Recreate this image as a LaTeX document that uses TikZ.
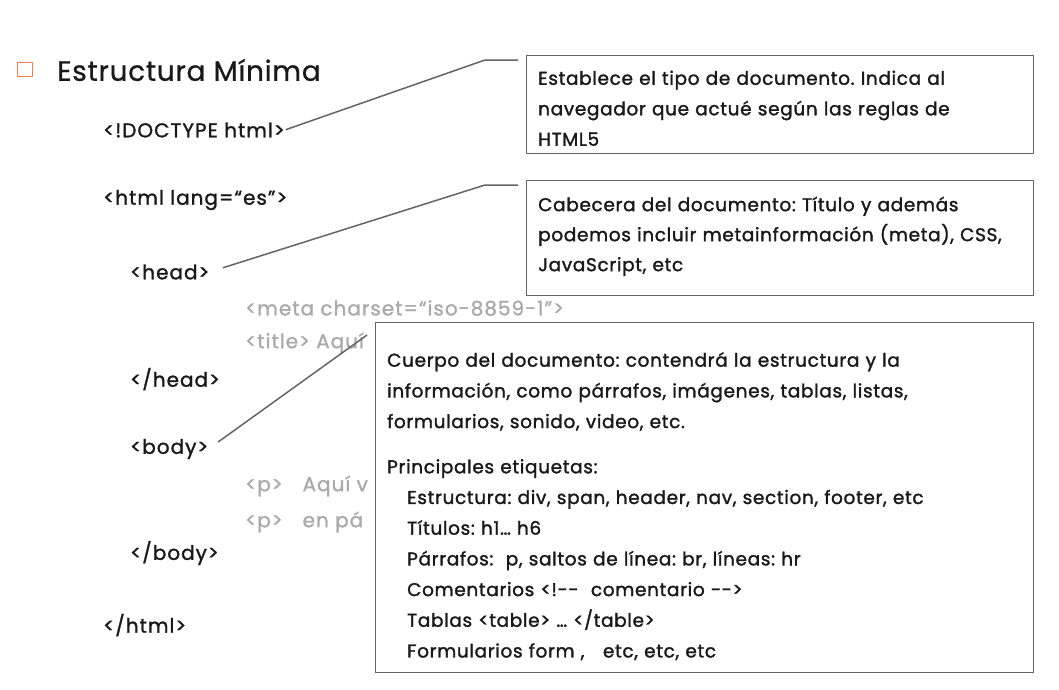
\documentclass[tikz,border=0pt]{standalone}
\usepackage{fontspec}
\setmainfont{Poppins}
\newfontfamily\tagfont{Poppins}[LetterSpace=5, FakeBold=1.3]
\newfontfamily\boxfont{Poppins}[LetterSpace=3.5, FakeBold=1.5]
\newfontfamily\headfont{Poppins}[LetterSpace=2.5, FakeBold=0.8]
\definecolor{bulletorange}{RGB}{232,128,80}
\definecolor{linegray}{RGB}{100,100,100}
\definecolor{codegray}{RGB}{170,170,170}
\definecolor{inkblack}{RGB}{25,25,25}
\tikzset{
  tag/.style={anchor=west, inner sep=0pt, text=inkblack, font=\tagfont\fontsize{20}{24}\selectfont},
  faded/.style={tag, text=codegray},
  callbox/.style={draw=linegray, line width=1.3pt, fill=white, anchor=north west, inner sep=0pt},
  boxtext/.style={anchor=north west, inner sep=0pt, align=left, text=inkblack,
    font=\boxfont\fontsize{18.5}{30.5}\selectfont},
  callout/.style={draw=linegray, line width=1.5pt}
}

\begin{document}
\frenchspacing
\begin{tikzpicture}[x=1pt, y=-1pt]
  \useasboundingbox (0,0) rectangle (1059,689);

  % Title
  \node[draw=bulletorange, line width=1.8pt, minimum width=15pt, minimum height=14pt, inner sep=0pt] (bullet) at (25,69.5) {};
  \node[anchor=west, inner sep=0pt, text=inkblack, font=\headfont\fontsize{28}{34}\selectfont] (title) at (57,70) {Estructura Mínima};

  % Markup
  \node[tag] (doctype) at (103,130) {<!DOCTYPE html>};
  \node[tag] (html) at (103,200) {<html lang=“es”>};
  \node[tag] (head) at (130,272) {<head>};
  \node[faded] (meta) at (245,308) {<meta charset=“iso-8859-1”>};
  \node[faded] (title2) at (245,343) {<title> Aquí};
  \node[tag] (headend) at (130,379) {</head>};
  \node[tag] (body) at (130,449) {<body>};
  \node[faded] (p1) at (245,486) {<p>\quad Aquí v};
  \node[faded] (p2) at (245,522) {<p>\quad en pá};
  \node[tag] (bodyend) at (130,553) {</body>};
  \node[tag] (htmlend) at (103,625) {</html>};

  % Box 1
  \node[callbox, minimum width=507pt, minimum height=98pt] (doctypebox) at (526,55) {};
  \node[boxtext, text width=483pt] (doctypetext) at ([shift={(12,15.5)}]doctypebox.north west)
    {Establece el tipo de documento. Indica al\\ navegador que actué según las reglas de\\ HTML5};

  % Box 2
  \node[callbox, minimum width=507pt, minimum height=115pt] (headbox) at (526,180) {};
  \node[boxtext, text width=483pt, font=\boxfont\fontsize{18.5}{30}\selectfont] (headtext) at ([shift={(12,16.5)}]headbox.north west)
    {Cabecera del documento: Título y además\\ podemos incluir metainformación (meta), CSS,\\ JavaScript, etc};

  % Box 3
  \node[callbox, minimum width=658pt, minimum height=350pt] (bodybox) at (375,322) {};
  \node[boxtext, text width=634pt, font=\boxfont\fontsize{18.5}{30.7}\selectfont] (bodytext) at ([shift={(12,30)}]bodybox.north west)
    {Cuerpo del documento: contendrá la estructura y la\\
     información, como párrafos, imágenes, tablas, listas,\\
     formularios, sonido, video, etc.\\[14.5pt]
     Principales etiquetas:\\
     \hspace*{20pt}Estructura: div, span, header, nav, section, footer, etc\\
     \hspace*{20pt}Títulos: h1… h6\\
     \hspace*{20pt}Párrafos:\ \ p, saltos de línea: br, líneas: hr\\
     \hspace*{20pt}Comentarios <!-{}-\ \ comentario -{}->\\
     \hspace*{20pt}Tablas <table> … </table>\\
     \hspace*{20pt}Formularios form ,\ \ \ etc, etc, etc};

  % Connectors
  \coordinate (k1) at (485,60);
  \coordinate (e1) at (518,60);
  \draw[callout, shorten <=1pt] (doctype.east) -- (k1) -- (e1);

  \coordinate (k2) at (485,185);
  \coordinate (e2) at (518,185);
  \draw[callout, shorten <=14pt] (head.east) -- (k2) -- (e2);

  \coordinate (k3) at (367,335);
  \draw[callout, shorten <=12pt] (body.east) -- (k3);
\end{tikzpicture}
\end{document}
